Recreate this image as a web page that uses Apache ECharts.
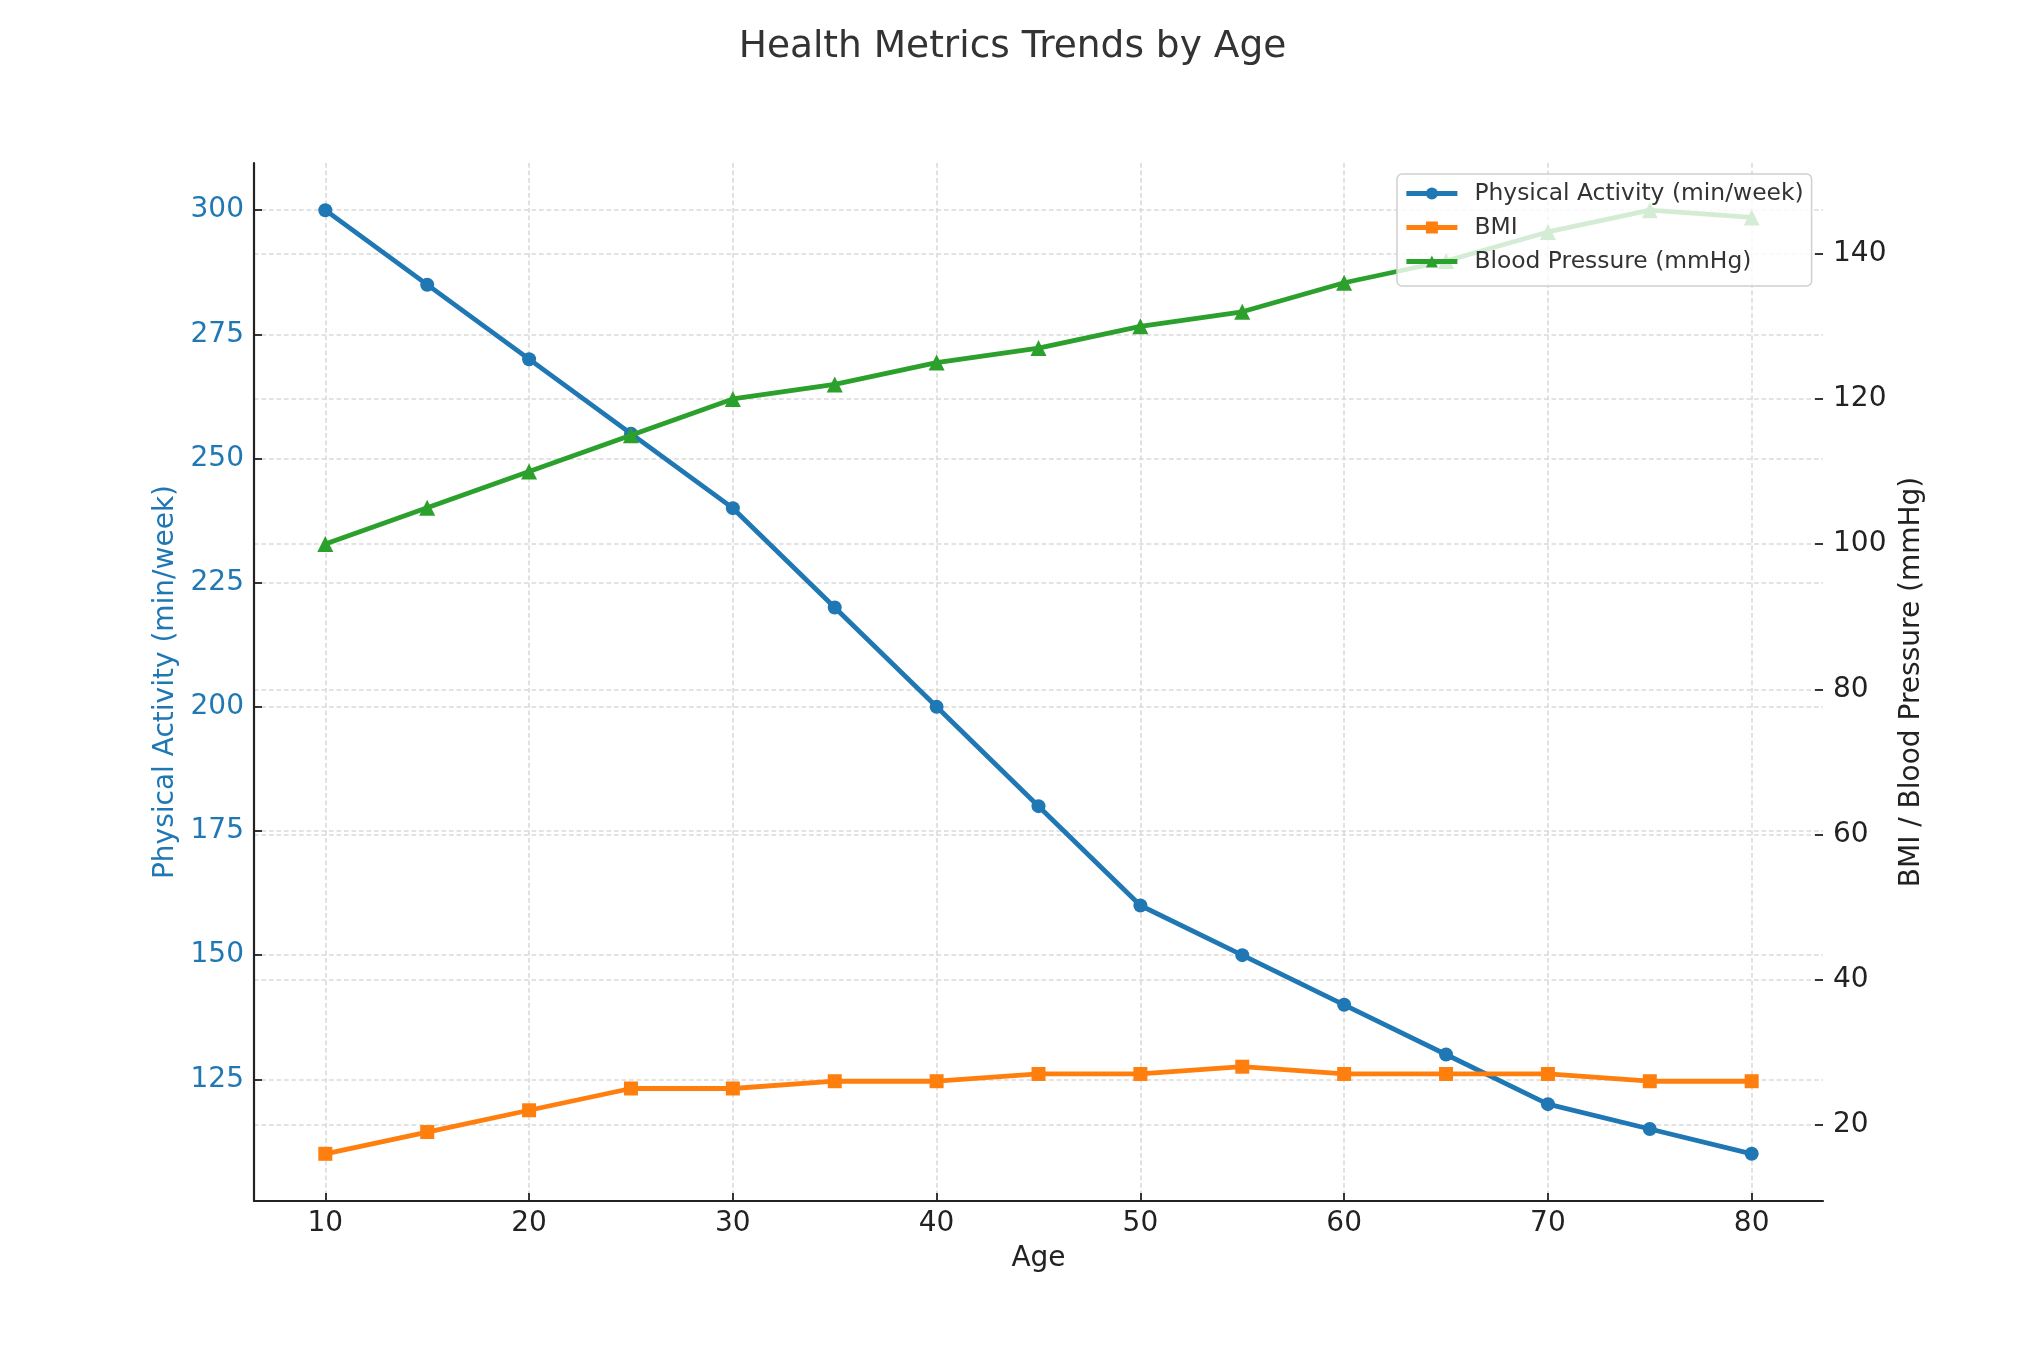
<!DOCTYPE html>
<html>
<head>
<meta charset="utf-8">
<script src="https://cdn.jsdelivr.net/npm/echarts@6/dist/echarts.min.js"></script>
<style>
html,body{margin:0;padding:0;background:#fff;}
#chart{width:2025px;height:1350px;}
</style>
</head>
<body>
<div id="chart"></div>
<script>
const ages = [10, 15, 20, 25, 30, 35, 40, 45, 50, 55, 60, 65, 70, 75, 80];
const activity = [300, 285, 270, 255, 240, 220, 200, 180, 160, 150, 140, 130, 120, 115, 110];
const bmi = [16, 19, 22, 25, 25, 26, 26, 27, 27, 28, 27, 27, 27, 26, 26];
const bloodPressure = [100, 105, 110, 115, 120, 122, 125, 127, 130, 132, 136, 139, 143, 146, 145];
const xTicks = [10, 20, 30, 40, 50, 60, 70, 80];
const leftTicks = [125, 150, 175, 200, 225, 250, 275, 300];
const rightTicks = [20, 40, 60, 80, 100, 120, 140];

const FONT = 'DejaVu Sans';
const BLUE = '#1f77b4', ORANGE = '#ff7f0e', GREEN = '#2ca02c';
const TXT = '#222222';
const LW = 4.8;
const gridLine = { show: true, lineStyle: { color: '#dadada', width: 1.6, type: [4.7, 2.8] } };

const pairs = (ys) => ages.map((a, i) => [a, ys[i]]);

const chart = echarts.init(document.getElementById('chart'), null, { renderer: 'canvas' });
chart.setOption({
  animation: false,
  backgroundColor: '#ffffff',
  title: {
    text: 'Health Metrics Trends by Age',
    left: 'center',
    top: 23,
    textStyle: { fontFamily: FONT, fontSize: 37.5, fontWeight: 'normal', color: '#333333' }
  },
  legend: {
    orient: 'vertical',
    left: 1397,
    top: 174,
    padding: [8, 8, 13, 7],
    itemGap: 11,
    itemWidth: 51,
    itemHeight: 15,
    backgroundColor: 'rgba(255,255,255,0.8)',
    borderColor: '#d0d0d0',
    borderWidth: 1.5,
    borderRadius: 5,
    lineStyle: { width: LW },
    textStyle: { fontFamily: FONT, fontSize: 23.4, color: '#333333', padding: [0, 0, 0, 12] },
    data: ['Physical Activity (min/week)', 'BMI', 'Blood Pressure (mmHg)']
  },
  grid: { left: 254, right: 202, top: 163, bottom: 149, containLabel: false, outerBoundsMode: 'none' },
  xAxis: {
    type: 'value',
    min: 6.5,
    max: 83.5,
    name: 'Age',
    nameLocation: 'middle',
    nameGap: 44,
    nameTextStyle: { fontFamily: FONT, fontSize: 28, color: TXT },
    axisLine: { show: true, lineStyle: { color: '#222', width: 2.2 } },
    axisTick: { show: true, inside: true, length: 8, lineStyle: { color: '#222', width: 1.8 }, customValues: xTicks },
    axisLabel: { show: true, margin: 9, fontFamily: FONT, fontSize: 28, color: TXT, customValues: xTicks },
    splitLine: gridLine
  },
  yAxis: [
    {
      type: 'value',
      position: 'left',
      min: 100.5,
      max: 309.5,
      name: 'Physical Activity (min/week)',
      nameLocation: 'middle',
      nameRotate: 90,
      nameGap: 74,
      nameTextStyle: { fontFamily: FONT, fontSize: 28, color: BLUE },
      axisLine: { show: true, lineStyle: { color: '#222', width: 2.2 } },
      axisTick: { show: true, inside: true, length: 8, lineStyle: { color: '#222', width: 1.8 }, customValues: leftTicks },
      axisLabel: { show: true, margin: 10, fontFamily: FONT, fontSize: 28, color: BLUE, customValues: leftTicks },
      splitLine: gridLine
    },
    {
      type: 'value',
      position: 'right',
      min: 9.5,
      max: 152.5,
      name: 'BMI / Blood Pressure (mmHg)',
      nameLocation: 'middle',
      nameRotate: 90,
      nameGap: 62,
      nameTextStyle: { fontFamily: FONT, fontSize: 28, color: TXT },
      axisLine: { show: false },
      axisTick: { show: true, inside: true, length: 8, lineStyle: { color: '#222', width: 1.8 }, customValues: rightTicks },
      axisLabel: { show: true, margin: 10, fontFamily: FONT, fontSize: 28, color: TXT, customValues: rightTicks },
      splitLine: gridLine
    }
  ],
  series: [
    {
      name: 'Physical Activity (min/week)',
      type: 'line',
      yAxisIndex: 0,
      data: pairs(activity),
      symbol: 'circle',
      symbolSize: 14,
      showAllSymbol: true,
      lineStyle: { color: BLUE, width: LW },
      itemStyle: { color: BLUE },
      z: 2
    },
    {
      name: 'BMI',
      type: 'line',
      yAxisIndex: 1,
      data: pairs(bmi),
      symbol: 'rect',
      symbolSize: 14,
      showAllSymbol: true,
      lineStyle: { color: ORANGE, width: LW },
      itemStyle: { color: ORANGE },
      z: 3
    },
    {
      name: 'Blood Pressure (mmHg)',
      type: 'line',
      yAxisIndex: 1,
      data: pairs(bloodPressure),
      symbol: 'triangle',
      symbolSize: 16,
      showAllSymbol: true,
      lineStyle: { color: GREEN, width: LW },
      itemStyle: { color: GREEN },
      z: 3
    }
  ]
});
</script>
</body>
</html>
